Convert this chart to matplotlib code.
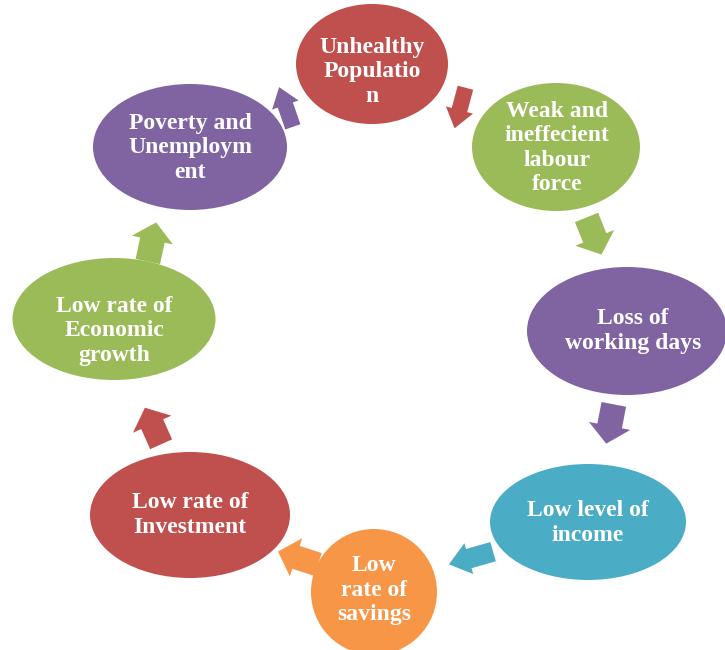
import numpy as np
import matplotlib
matplotlib.use("Agg")
import matplotlib.pyplot as plt
from matplotlib.patches import Ellipse, Polygon

# ---- content ----
labels = [
    "Unhealthy\nPopulatio\nn",
    "Weak and\nineffecient\nlabour\nforce",
    "Loss of\nworking days",
    "Low level of\nincome",
    "Low\nrate of\nsavings",
    "Low rate of\nInvestment",
    "Low rate of\nEconomic\ngrowth",
    "Poverty and\nUnemploym\nent",
]
node_colors = ["#C0504D", "#9BBB59", "#8064A2", "#4BACC6",
               "#F79646", "#C0504D", "#9BBB59", "#8064A2"]
# arrow i goes from node i-1 to node i (colour of the source node)
arrow_colors = ["#8064A2", "#C0504D", "#9BBB59", "#8064A2",
                "#4BACC6", "#F79646", "#C0504D", "#9BBB59"]

# ---- layout (pixel space, y down) ----
centers = [(372, 64), (556, 147), (627, 331), (588, 522),
           (374, 592), (190, 515), (114, 319), (190, 147)]
sizes = [(152, 120), (168, 128), (200, 128), (196, 116),
         (126, 126), (200, 126), (203, 122), (194, 126)]
text_pos = [(372, 72), (557, 148), (633, 331), (588, 523),
            (374, 590), (190, 515), (114, 331), (190, 148)]

# arrows: center, angle (deg, screen coords), length, head width, shaft width
arrows = [
    ((286, 107), -109, 42, 28, 16),
    ((460, 108), 105, 42, 28, 16),
    ((594, 236), 68, 40, 42, 25),
    ((610, 424), 101, 40, 42, 25),
    ((471, 558), 164, 46, 32, 20),
    ((298, 558), 198, 42, 40, 24),
    ((153, 426), -114, 40, 42, 24),
    ((152, 242), -78, 40, 42, 25),
]

fig = plt.figure(figsize=(7.25, 6.5), dpi=100)
ax = fig.add_axes([0, 0, 1, 1])
ax.set_xlim(0, 725)
ax.set_ylim(650, 0)
ax.axis("off")

for (cx, cy), (w, h), col in zip(centers, sizes, node_colors):
    ax.add_patch(Ellipse((cx, cy), w, h, facecolor=col, edgecolor="none"))

for ((cx, cy), ang, L, W, S), col in zip(arrows, arrow_colors):
    H = L * 0.45
    # local coords: x along direction, centered
    pts = np.array([
        [-L / 2, -S / 2],
        [L / 2 - H, -S / 2],
        [L / 2 - H, -W / 2],
        [L / 2, 0],
        [L / 2 - H, W / 2],
        [L / 2 - H, S / 2],
        [-L / 2, S / 2],
    ])
    t = np.deg2rad(ang)
    R = np.array([[np.cos(t), -np.sin(t)], [np.sin(t), np.cos(t)]])
    pts = pts @ R.T + np.array([cx, cy])
    ax.add_patch(Polygon(pts, closed=True, facecolor=col, edgecolor="none"))

for (tx, ty), lab in zip(text_pos, labels):
    ax.text(tx, ty, lab, ha="center", va="center", multialignment="center",
            color="white", fontsize=17, fontweight="bold",
            family="Liberation Serif", linespacing=1.2)

fig.savefig("out.png", dpi=100)
